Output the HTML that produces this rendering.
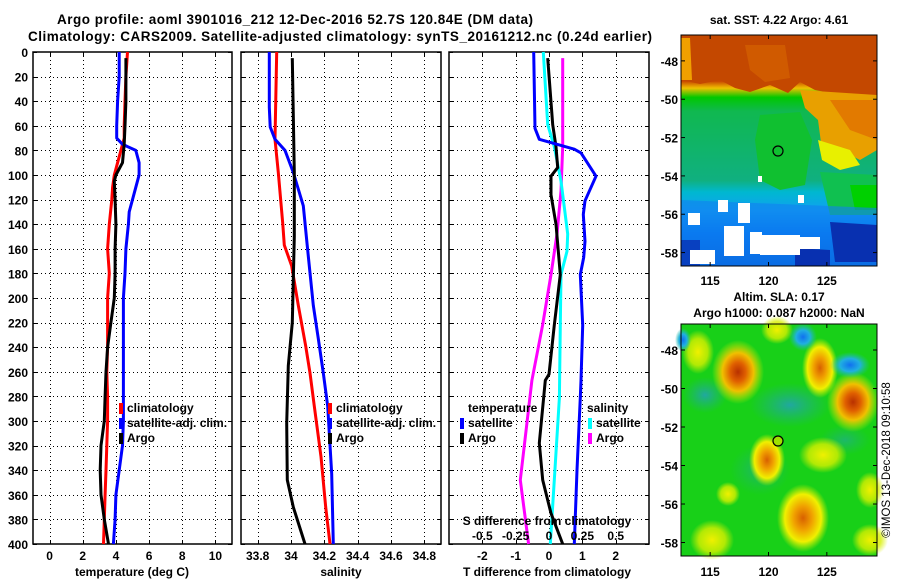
<!DOCTYPE html>
<html><head><meta charset="utf-8"><style>
html,body{margin:0;padding:0;background:#fff;}
svg{display:block;font-family:"Liberation Sans",sans-serif;font-weight:bold;}
</style></head><body>
<svg id="fig" width="900" height="580" viewBox="0 0 900 580">
<defs>
<linearGradient id="sstBase" x1="0" y1="0" x2="0" y2="1">
<stop offset="0" stop-color="#c04000"/><stop offset="0.2" stop-color="#c84800"/>
<stop offset="0.23" stop-color="#f0c000"/><stop offset="0.27" stop-color="#00c800"/>
<stop offset="0.33" stop-color="#10b850"/><stop offset="0.63" stop-color="#10b080"/>
<stop offset="0.68" stop-color="#00b8d0"/><stop offset="0.76" stop-color="#10a0f0"/>
<stop offset="0.86" stop-color="#0070f0"/><stop offset="1" stop-color="#0050d0"/>
</linearGradient>
<radialGradient id="gY"><stop offset="0" stop-color="#f0f000"/><stop offset="0.6" stop-color="#d8f000" stop-opacity="0.8"/><stop offset="1" stop-color="#d8f000" stop-opacity="0"/></radialGradient>
<radialGradient id="gO"><stop offset="0" stop-color="#d86000"/><stop offset="0.35" stop-color="#f0a000"/><stop offset="0.7" stop-color="#f0f000"/><stop offset="1" stop-color="#d0f000" stop-opacity="0"/></radialGradient>
<radialGradient id="gR"><stop offset="0" stop-color="#b83000"/><stop offset="0.3" stop-color="#e06000"/><stop offset="0.6" stop-color="#f0c000"/><stop offset="1" stop-color="#d0f000" stop-opacity="0"/></radialGradient>
<radialGradient id="gB"><stop offset="0" stop-color="#1070f0"/><stop offset="0.5" stop-color="#20b0e0"/><stop offset="1" stop-color="#20c0a0" stop-opacity="0"/></radialGradient>
<radialGradient id="gT"><stop offset="0" stop-color="#20a8a0"/><stop offset="1" stop-color="#20b080" stop-opacity="0"/></radialGradient>
</defs>

<text x="295" y="24" text-anchor="middle" font-size="13.5" textLength="476">Argo profile: aoml 3901016_212 12-Dec-2016 52.7S 120.84E (DM data)</text>
<text x="340" y="41" text-anchor="middle" font-size="13.5" textLength="624">Climatology: CARS2009. Satellite-adjusted climatology: synTS_20161212.nc (0.24d earlier)</text>

<!-- SST map -->
<g>
<rect x="681" y="35" width="196" height="231" fill="url(#sstBase)"/>
<polygon points="681,35 877,35 877,102 860,100 840,95 815,90 800,82 788,93 770,85 750,92 735,88 720,80 700,84 681,80" fill="#c44800"/>
<polygon points="681,38 690,38 692,80 681,80" fill="#f0a000"/>
<polygon points="745,45 785,45 790,78 765,82 750,70" fill="#d86800" opacity="0.6"/>
<polygon points="800,90 877,95 877,150 860,160 840,150 822,150 818,120 805,108" fill="#e8a000"/>
<polygon points="830,100 877,100 877,140 850,130" fill="#e07000" opacity="0.8"/>
<polygon points="818,140 850,150 860,165 840,170 822,160" fill="#e8f000"/>
<polygon points="760,115 800,112 812,140 805,185 780,190 760,180 755,140" fill="#10c030"/>
<polygon points="820,172 877,175 877,215 830,215" fill="#10c050"/>
<polygon points="850,185 877,185 877,210 855,210" fill="#00d000"/>
<polygon points="681,200 877,208 877,266 681,266" fill="#1080f0" opacity="0.6"/>
<polygon points="830,222 877,225 877,262 835,262" fill="#0830b0"/>
<polygon points="795,248 830,250 830,266 795,266" fill="#0830b0"/>
<polygon points="681,240 700,240 700,266 681,266" fill="#0840c0"/>
<g fill="#fff">
<rect x="688" y="213" width="12" height="12"/><rect x="690" y="250" width="25" height="14"/>
<rect x="718" y="200" width="10" height="12"/><rect x="738" y="203" width="12" height="20"/>
<rect x="724" y="226" width="20" height="30"/><rect x="750" y="232" width="12" height="22"/>
<rect x="760" y="235" width="40" height="20"/><rect x="790" y="237" width="30" height="12"/>
<rect x="758" y="176" width="4" height="6"/><rect x="798" y="195" width="6" height="8"/>
</g>
<rect x="681" y="35" width="196" height="231" fill="none" stroke="#000" stroke-width="1"/>
<circle cx="778" cy="151" r="5" fill="none" stroke="#000" stroke-width="1.2"/>
</g>
<text x="779" y="24" text-anchor="middle" font-size="12">sat. SST: 4.22 Argo: 4.61</text>

<!-- SLA map -->
<g>
<rect x="681" y="324" width="196" height="232" fill="#18d018"/>
<ellipse cx="790" cy="405" rx="40" ry="22" fill="url(#gT)"/>
<ellipse cx="705" cy="395" rx="22" ry="18" fill="url(#gT)"/>
<ellipse cx="760" cy="470" rx="30" ry="25" fill="url(#gT)" opacity="0.6"/>
<ellipse cx="845" cy="440" rx="25" ry="15" fill="url(#gT)" opacity="0.6"/>
<ellipse cx="738" cy="372" rx="26" ry="32" fill="url(#gR)"/>
<ellipse cx="853" cy="402" rx="26" ry="30" fill="url(#gR)"/>
<ellipse cx="820" cy="368" rx="18" ry="30" fill="url(#gO)"/>
<ellipse cx="698" cy="352" rx="16" ry="22" fill="url(#gY)"/>
<ellipse cx="777" cy="330" rx="16" ry="14" fill="url(#gY)"/>
<ellipse cx="767" cy="460" rx="18" ry="26" fill="url(#gO)"/>
<ellipse cx="823" cy="455" rx="24" ry="18" fill="url(#gY)"/>
<ellipse cx="803" cy="518" rx="26" ry="34" fill="url(#gO)"/>
<ellipse cx="712" cy="540" rx="22" ry="20" fill="url(#gY)"/>
<ellipse cx="728" cy="494" rx="12" ry="12" fill="url(#gY)"/>
<ellipse cx="870" cy="490" rx="14" ry="18" fill="url(#gY)"/>
<ellipse cx="870" cy="540" rx="18" ry="16" fill="url(#gY)"/>
<ellipse cx="850" cy="365" rx="20" ry="13" fill="url(#gB)"/>
<ellipse cx="803" cy="337" rx="14" ry="14" fill="url(#gB)"/>
<ellipse cx="683" cy="340" rx="8" ry="12" fill="url(#gB)"/>
<rect x="681" y="324" width="196" height="232" fill="none" stroke="#000" stroke-width="1"/>
<circle cx="778" cy="441" r="5" fill="#a0e000" stroke="#000" stroke-width="1.2"/>
</g>
<text x="779" y="301" text-anchor="middle" font-size="12">Altim. SLA: 0.17</text>
<text x="779" y="317" text-anchor="middle" font-size="12">Argo h1000: 0.087 h2000: NaN</text>
<text transform="translate(890,460) rotate(-90)" text-anchor="middle" font-size="11.5" font-weight="normal">©IMOS 13-Dec-2018 09:10:58</text>

<g id="plots"></g>
</svg>
<script>
// ---- temperature panel data ----
const tClimDepth = [0,20,40,60,70,80,90,100,110,120,140,160,180,200,220,240,260,280,300,320,340,360,380,400];
const tClimVal   = [4.7,4.6,4.55,4.5,4.5,4.3,4.1,3.9,3.8,3.75,3.6,3.5,3.6,3.5,3.5,3.5,3.45,3.5,3.5,3.45,3.4,3.35,3.3,3.25];
const tSatDepth  = [0,20,40,60,70,75,80,90,100,110,120,130,140,160,180,200,240,280,300,320,340,360,380,400];
const tSatVal    = [4.2,4.2,4.1,4.05,4.05,4.4,5.2,5.4,5.4,5.2,5.0,4.8,4.75,4.6,4.55,4.45,4.45,4.45,4.45,4.4,4.2,4.0,3.95,3.85];
const tArgoDepth = [5,20,40,60,75,90,100,105,120,140,160,180,200,220,240,260,280,300,320,340,360,380,400];
const tArgoVal   = [4.6,4.6,4.6,4.55,4.5,4.4,4.0,3.9,3.95,4.0,3.95,3.95,3.9,3.7,3.5,3.4,3.35,3.3,3.1,3.05,3.1,3.3,3.55];
// ---- salinity panel data ----
const sClimDepth = [0,71,98,139,157,174,206,239,261,288,329,370,400];
const sClimVal   = [33.914,33.904,33.924,33.95,33.96,34.004,34.044,34.088,34.114,34.14,34.18,34.208,34.234];
const sSatDepth  = [0,45,61,71,80,98,125,166,206,233,261,288,343,400];
const sSatVal    = [33.87,33.87,33.875,33.904,33.964,34.014,34.074,34.104,34.134,34.164,34.194,34.22,34.244,34.254];
const sArgoDepth = [5,98,150,220,255,302,348,370,400];
const sArgoVal   = [34.008,34.02,34.02,34.008,33.984,33.974,33.978,34.014,34.084];
// ---- difference panel data ----
const dTSatDepth = [0,62,71,79,82,101,121,132,154,167,181,222,267,281,340,400];
const dTSatVal   = [-0.46,-0.42,-0.29,0.76,0.96,1.41,1.08,1.03,1.08,1.04,0.94,1.01,0.96,0.94,0.84,0.76];
const dTArgoDepth= [5,59,77,94,101,116,140,181,222,262,267,318,348,375,400];
const dTArgoVal  = [-0.04,0.11,0.21,0.26,0.06,0.06,0.21,0.34,0.16,0,-0.11,-0.29,-0.19,0.06,0.41];
const dSSatDepth = [0,59,77,105,148,162,181,222,281,348,400];
const dSSatVal   = [-0.043,-0.01,0.04,0.09,0.14,0.135,0.09,0.085,0.078,0.04,0.01];
const dSArgoDepth= [5,77,113,148,181,222,267,348,400];
const dSArgoVal  = [0.103,0.103,0.09,0.06,0.015,-0.048,-0.128,-0.215,-0.153];
// ---- ticks ----
const depthTicks = [0,20,40,60,80,100,120,140,160,180,200,220,240,260,280,300,320,340,360,380,400];
const tTicks = [0,2,4,6,8,10];
const sTicks = [33.8,34,34.2,34.4,34.6,34.8];
const dTTicks = [-2,-1,0,1,2];
const dSTicks = [-0.5,-0.25,0,0.25,0.5];
const dSTickLabels = ["-0.5","-0.25","0","0.25","0.5"];
const latTicks = [-48,-50,-52,-54,-56,-58];
const lonTicks = [115,120,125];

const NS="http://www.w3.org/2000/svg";
const root=document.getElementById('plots');
function mk(tag,attrs,parent){const e=document.createElementNS(NS,tag);for(const k in attrs)e.setAttribute(k,attrs[k]);(parent||root).appendChild(e);return e;}
const Y0=52,Y1=544;
function yScale(d){return Y0+(d/400)*(Y1-Y0);}
function px(v){return Math.round(v)+0.5;}

function panel(name,x0,x1,xmin,xmax){
  const g=mk('g',{});
  
  
  const xs=v=>x0+(v-xmin)/(xmax-xmin)*(x1-x0);
  return {g,xs,x0,x1};
}
function grid(p,xt){
  depthTicks.forEach(d=>{const y=px(yScale(d));
    if(d>0&&d<400){const l=mk('line',{x1:p.x0,x2:p.x1,y1:y,y2:y,stroke:'#000','stroke-width':1,'stroke-dasharray':'1,3','shape-rendering':'crispEdges'},p.g);
    
    }
    mk('line',{x1:p.x0,x2:p.x0+4,y1:y,y2:y,stroke:'#000','shape-rendering':'crispEdges'},p.g);
    mk('line',{x1:p.x1-4,x2:p.x1,y1:y,y2:y,stroke:'#000','shape-rendering':'crispEdges'},p.g);
  });
  xt.forEach(v=>{const x=px(p.xs(v));
    const l=mk('line',{x1:x,x2:x,y1:Y0,y2:Y1,stroke:'#000','stroke-width':1,'stroke-dasharray':'1,3','shape-rendering':'crispEdges'},p.g);
    
    
    mk('line',{x1:x,x2:x,y1:Y0,y2:Y0+4,stroke:'#000','shape-rendering':'crispEdges'},p.g);
    mk('line',{x1:x,x2:x,y1:Y1-4,y2:Y1,stroke:'#000','shape-rendering':'crispEdges'},p.g);
  });
  const f=mk('rect',{x:p.x0,y:Y0,width:p.x1-p.x0,height:Y1-Y0,fill:'none',stroke:'#000','stroke-width':1.5},p.g);
  
  
}
function series(p,depths,vals,color,name,xsFn){
  const xs=xsFn||p.xs;
  const pts=depths.map((d,i)=>xs(vals[i]).toFixed(1)+','+yScale(d).toFixed(1)).join(' ');
  const l=mk('polyline',{points:pts,fill:'none',stroke:color,'stroke-width':3,'stroke-linejoin':'round'},p.g);
  
  
}
function txt(p,x,y,s,opts,name){
  const t=mk('text',Object.assign({x:x,y:y,'font-size':12},opts||{}),p.g);t.textContent=s;
  
  
  return t;
}
function legend(p,x,y,items){
  items.forEach((it,i)=>{
    const r=mk('rect',{x:x,y:y+i*15-9,width:4,height:11,fill:it[1]},p.g);
    
    
    txt(p,x+8,y+i*15,it[0],{},'legend-entry');
  });
}

// Panel 1 temperature
const p1=panel('temperature-panel',33,232,-1,11);
grid(p1,tTicks);
series(p1,tClimDepth,tClimVal,'#ff0000','temperature-climatology-line');
series(p1,tSatDepth,tSatVal,'#0000ff','temperature-satellite-line');
series(p1,tArgoDepth,tArgoVal,'#000000','temperature-argo-line');
depthTicks.forEach(d=>txt(p1,28,yScale(d)+5,String(d),{'text-anchor':'end'},'depth-tick-label'));
tTicks.forEach(v=>txt(p1,p1.xs(v),560,String(v),{'text-anchor':'middle'},'temperature-tick-label'));
txt(p1,132,576,'temperature (deg C)',{'text-anchor':'middle'},'x-axis-title-temperature');
legend(p1,119,412,[['climatology','#ff0000'],['satellite-adj. clim.','#0000ff'],['Argo','#000']]);

// Panel 2 salinity
const p2=panel('salinity-panel',241,441,33.7,34.9);
grid(p2,sTicks);
series(p2,sClimDepth,sClimVal,'#ff0000','salinity-climatology-line');
series(p2,sSatDepth,sSatVal,'#0000ff','salinity-satellite-line');
series(p2,sArgoDepth,sArgoVal,'#000000','salinity-argo-line');
sTicks.forEach(v=>txt(p2,p2.xs(v),560,String(v),{'text-anchor':'middle'},'salinity-tick-label'));
txt(p2,341,576,'salinity',{'text-anchor':'middle'},'x-axis-title-salinity');
legend(p2,328,412,[['climatology','#ff0000'],['satellite-adj. clim.','#0000ff'],['Argo','#000']]);

// Panel 3 differences
const p3=panel('difference-panel',449,649,-3,3);
const xsS=v=>p3.xs(v*4);
grid(p3,dTTicks);
series(p3,dSArgoDepth,dSArgoVal,'#ff00ff','salinity-argo-diff-line',xsS);
series(p3,dSSatDepth,dSSatVal,'#00ffff','salinity-satellite-diff-line',xsS);
series(p3,dTArgoDepth,dTArgoVal,'#000000','temperature-argo-diff-line');
series(p3,dTSatDepth,dTSatVal,'#0000ff','temperature-satellite-diff-line');
dTTicks.forEach(v=>txt(p3,p3.xs(v),560,String(v),{'text-anchor':'middle'},'t-diff-tick-label'));
dSTicks.forEach((v,i)=>txt(p3,xsS(v),540,dSTickLabels[i],{'text-anchor':'middle'},'s-diff-tick-label'));
txt(p3,547,525,'S difference from climatology',{'text-anchor':'middle'},'s-diff-axis-title');
txt(p3,547,576,'T difference from climatology',{'text-anchor':'middle'},'x-axis-title-t-diff');
txt(p3,468,412,'temperature',{},'legend-title-temperature');
txt(p3,587,412,'salinity',{},'legend-title-salinity');
legend(p3,460,427,[['satellite','#0000ff'],['Argo','#000']]);
legend(p3,588,427,[['satellite','#00ffff'],['Argo','#ff00ff']]);

// Map axes
function mapAxes(name,x0,x1,y0,y1,lonLabelY){
  const g=mk('g',{});
  
  
  const lx=v=>x0+(v-112.5)/(129.3-112.5)*(x1-x0);
  const ly=v=>y0+(-46.65-v)/(58.7-46.65)*(y1-y0);
  latTicks.forEach(v=>{const y=ly(v);
    mk('line',{x1:x0,x2:x0+4,y1:y,y2:y,stroke:'#000'},g);
    mk('line',{x1:x1-4,x2:x1,y1:y,y2:y,stroke:'#000'},g);
    const t=mk('text',{x:x0-3,y:y+5,'font-size':12,'text-anchor':'end'},g);t.textContent=String(v);
    
    
  });
  lonTicks.forEach(v=>{const x=lx(v);
    mk('line',{x1:x,x2:x,y1:y1-4,y2:y1,stroke:'#000'},g);
    mk('line',{x1:x,x2:x,y1:y0,y2:y0+4,stroke:'#000'},g);
    const t=mk('text',{x:x,y:lonLabelY,'font-size':12,'text-anchor':'middle'},g);t.textContent=String(v);
    
    
  });
}
mapAxes('sst-map-axes',681,877,35,266,285);
mapAxes('sla-map-axes',681,877,324,556,576);
</script>
</body></html>
